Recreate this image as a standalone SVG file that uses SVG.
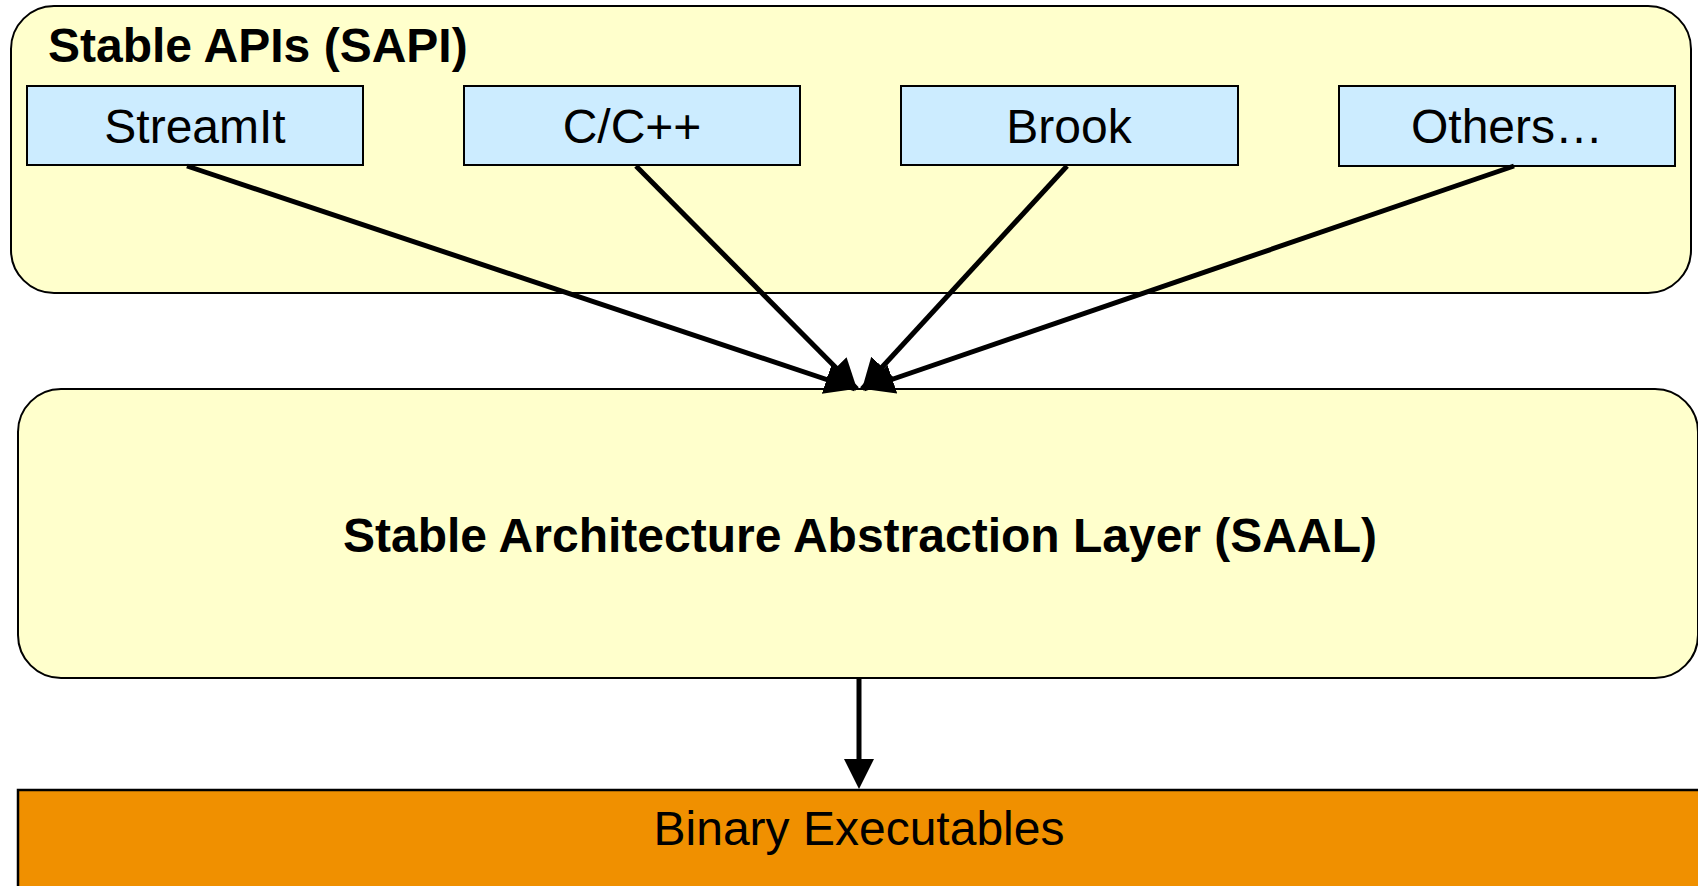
<svg xmlns="http://www.w3.org/2000/svg" width="1698" height="886" viewBox="0 0 1698 886">
<style>
.layer{fill:#FFFFCC;stroke:#000;stroke-width:2}
.lang{fill:#CCECFF;stroke:#000;stroke-width:2}
.bin{fill:#F09000;stroke:#000;stroke-width:2.5}
.t{font-family:"Liberation Sans",Arial,sans-serif;font-size:48px;fill:#000}
.b{font-weight:bold}
.c{text-anchor:middle}
.conn{stroke:#000;stroke-width:5;fill:none;marker-end:url(#ah)}
</style>
<defs>
<marker id="ah" markerUnits="userSpaceOnUse" markerWidth="32" markerHeight="32" refX="30" refY="15" orient="auto" viewBox="0 0 32 32">
<path d="M0,0 L30,15 L0,30 z" fill="#000"/>
</marker>
</defs>
<rect width="1698" height="886" fill="#fff"/>
<g id="sapi">
<rect class="layer" x="11" y="6" width="1680" height="287" rx="43" ry="43"/>
<text class="t b" x="48" y="62">Stable APIs (SAPI)</text>
</g>
<g id="streamit">
<rect class="lang" x="27" y="86" width="336" height="79"/>
<text class="t c" x="195" y="143">StreamIt</text>
</g>
<g id="cpp">
<rect class="lang" x="464" y="86" width="336" height="79"/>
<text class="t c" x="632" y="143">C/C++</text>
</g>
<g id="brook">
<rect class="lang" x="901" y="86" width="337" height="79"/>
<text class="t c" x="1069" y="143">Brook</text>
</g>
<g id="others">
<rect class="lang" x="1339" y="86" width="336" height="80"/>
<text class="t c" x="1507" y="143">Others…</text>
</g>
<g id="saal">
<rect class="layer" x="18" y="389" width="1680" height="289" rx="43" ry="43"/>
<text class="t b c" x="860" y="552">Stable Architecture Abstraction Layer (SAAL)</text>
</g>
<g id="binary">
<rect class="bin" x="18" y="790" width="1682" height="110"/>
<text class="t c" x="859" y="845">Binary Executables</text>
</g>
<g id="connectors">
<line class="conn" x1="187" y1="166" x2="855" y2="389"/>
<line class="conn" x1="636" y1="166" x2="857" y2="389"/>
<line class="conn" x1="1067" y1="166" x2="862" y2="389"/>
<line class="conn" x1="1514" y1="166" x2="864" y2="389"/>
<line x1="859" y1="678" x2="859" y2="762" stroke="#000" stroke-width="5"/>
<polygon points="844,759 874,759 859,789" fill="#000"/>
</g>
</svg>
